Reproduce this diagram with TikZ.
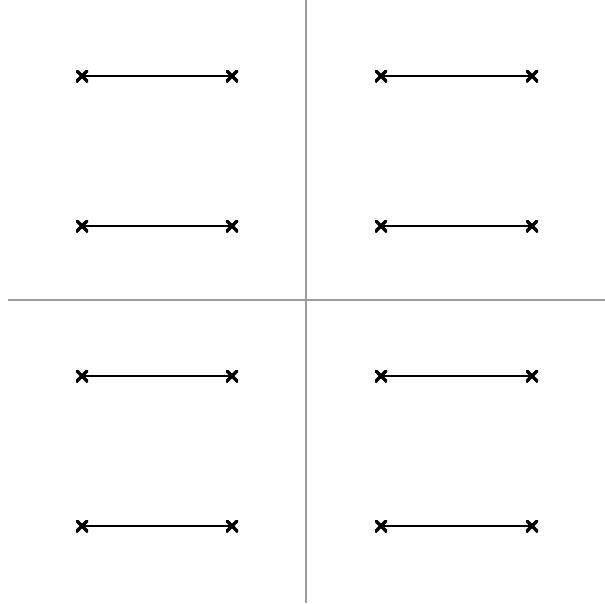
\documentclass[tikz,border=0pt]{standalone}
\begin{document}
\begin{tikzpicture}[x=1pt,y=-1pt,
  axisline/.style={draw=black!38,line width=2pt},
  seg/.style={draw=black,line width=2pt},
  xmark/.style={inner sep=0pt,minimum size=12pt,path picture={
    \draw[black,line width=3.4pt] (path picture bounding box.south west) -- (path picture bounding box.north east)
      (path picture bounding box.north west) -- (path picture bounding box.south east);}}]
\useasboundingbox (0,0) rectangle (605,603);
\fill[white] (0,0) rectangle (605,603);
\coordinate (vt) at (306,0);
\coordinate (vb) at (306,603);
\coordinate (hl) at (8,300);
\coordinate (hr) at (605,300);
\draw[axisline] (vt) -- (vb);
\draw[axisline] (hl) -- (hr);
\foreach \col/\xa/\xb in {l/82/232,r/381/532}{
  \foreach \row/\yy in {1/76,2/226,3/376,4/526}{
    \node[xmark] (a\col\row) at (\xa,\yy) {};
    \node[xmark] (b\col\row) at (\xb,\yy) {};
    \draw[seg] (a\col\row.center) -- (b\col\row.center);
  }
}
\end{tikzpicture}
\end{document}
